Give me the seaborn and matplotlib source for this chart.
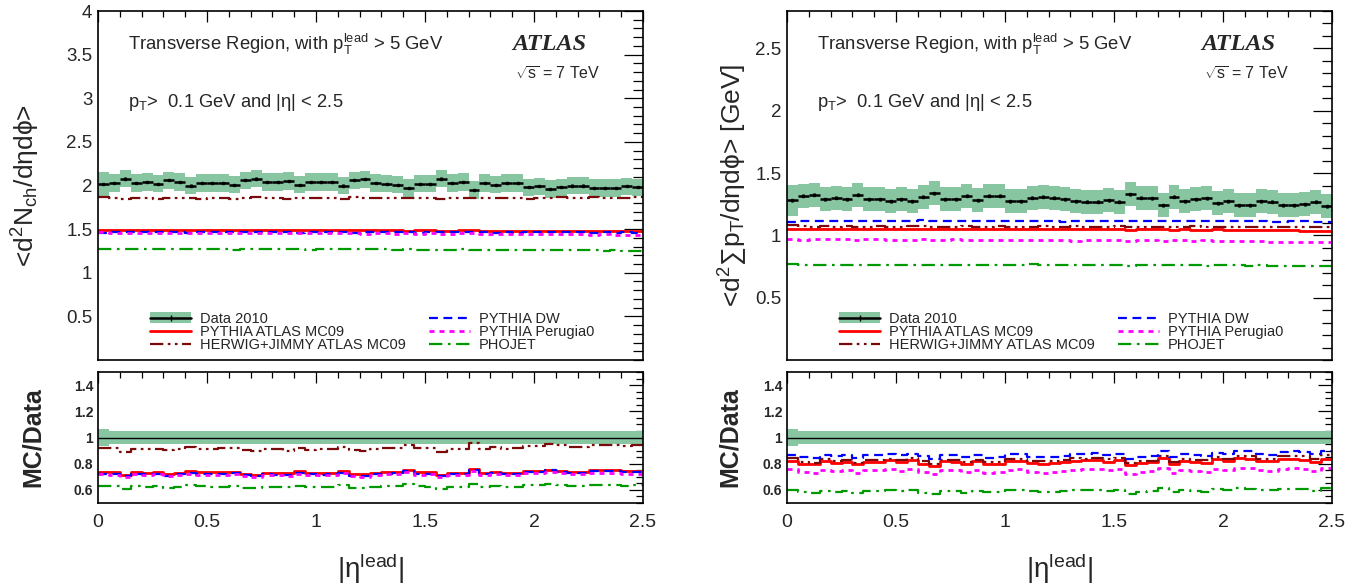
import numpy as np
import matplotlib
matplotlib.use('Agg')
import matplotlib.pyplot as plt
import seaborn as sns
from matplotlib.patches import Patch
from matplotlib.lines import Line2D
from matplotlib.ticker import MultipleLocator, FormatStrFormatter

sns.set_theme(style='white')
plt.rcParams['font.family'] = ['Liberation Sans', 'DejaVu Sans']
plt.rcParams['mathtext.fontset'] = 'custom'
plt.rcParams['mathtext.rm'] = 'Liberation Sans'
plt.rcParams['mathtext.it'] = 'Liberation Sans:italic'
plt.rcParams['mathtext.bf'] = 'Liberation Sans:bold'

# |eta_lead| bins: 50 bins of 0.05 from 0 to 2.5
eta_edges = np.round(np.arange(0, 2.5001, 0.05), 3)

# ---- left: <d2Nch/deta dphi> ----
data_nch = [2.02, 2.03, 2.08, 2.03, 2.04, 2.02, 2.06, 2.04, 2.00, 2.03,
            2.03, 2.03, 2.01, 2.06, 2.08, 2.04, 2.04, 2.05, 2.01, 2.04,
            2.04, 2.04, 2.00, 2.06, 2.07, 2.03, 2.02, 2.01, 1.97, 2.02,
            2.02, 2.08, 2.03, 2.04, 1.95, 2.03, 2.01, 2.03, 2.03, 1.98,
            1.99, 1.96, 1.98, 2.00, 2.00, 1.97, 1.97, 1.97, 1.99, 1.98]
syst_nch = [0.068, 0.050, 0.050, 0.050, 0.050, 0.050, 0.050, 0.050, 0.050, 0.050,
            0.050, 0.050, 0.050, 0.050, 0.050, 0.050, 0.050, 0.050, 0.050, 0.050,
            0.050, 0.050, 0.050, 0.050, 0.050, 0.050, 0.050, 0.050, 0.050, 0.050,
            0.050, 0.050, 0.050, 0.050, 0.050, 0.050, 0.050, 0.050, 0.050, 0.050,
            0.050, 0.050, 0.050, 0.050, 0.050, 0.050, 0.050, 0.050, 0.050, 0.050]
mc09_nch = [1.495, 1.490, 1.488, 1.492, 1.493, 1.490, 1.488, 1.487, 1.485, 1.488,
            1.490, 1.489, 1.487, 1.486, 1.488, 1.490, 1.490, 1.491, 1.489, 1.487,
            1.488, 1.486, 1.487, 1.489, 1.488, 1.486, 1.485, 1.486, 1.484, 1.485,
            1.486, 1.484, 1.483, 1.485, 1.486, 1.484, 1.482, 1.483, 1.481, 1.480,
            1.482, 1.480, 1.478, 1.479, 1.478, 1.477, 1.476, 1.478, 1.477, 1.476]
herwig_nch = [1.865, 1.860, 1.848, 1.858, 1.856, 1.850, 1.862, 1.858, 1.855, 1.850,
              1.852, 1.862, 1.848, 1.858, 1.870, 1.856, 1.860, 1.846, 1.855, 1.852,
              1.858, 1.860, 1.850, 1.866, 1.854, 1.855, 1.858, 1.852, 1.862, 1.856,
              1.860, 1.848, 1.855, 1.858, 1.862, 1.852, 1.860, 1.855, 1.862, 1.850,
              1.858, 1.862, 1.868, 1.860, 1.858, 1.864, 1.860, 1.858, 1.862, 1.864]
dw_nch = [1.455, 1.468, 1.462, 1.466, 1.470, 1.464, 1.462, 1.468, 1.460, 1.465,
          1.464, 1.462, 1.466, 1.463, 1.465, 1.468, 1.462, 1.464, 1.460, 1.465,
          1.462, 1.466, 1.463, 1.461, 1.464, 1.466, 1.462, 1.465, 1.468, 1.461,
          1.463, 1.465, 1.462, 1.464, 1.470, 1.466, 1.461, 1.464, 1.460, 1.463,
          1.465, 1.468, 1.462, 1.464, 1.463, 1.461, 1.465, 1.460, 1.462, 1.458]
perugia_nch = [1.462, 1.455, 1.450, 1.458, 1.455, 1.452, 1.456, 1.454, 1.450, 1.455,
               1.452, 1.456, 1.454, 1.450, 1.453, 1.455, 1.452, 1.450, 1.455, 1.452,
               1.450, 1.453, 1.451, 1.452, 1.448, 1.452, 1.450, 1.447, 1.451, 1.448,
               1.450, 1.445, 1.448, 1.450, 1.452, 1.446, 1.448, 1.445, 1.447, 1.444,
               1.446, 1.448, 1.443, 1.445, 1.441, 1.438, 1.440, 1.436, 1.437, 1.435]
phojet_nch = [1.275, 1.272, 1.270, 1.276, 1.274, 1.272, 1.268, 1.270, 1.275, 1.272,
              1.268, 1.270, 1.265, 1.268, 1.272, 1.270, 1.268, 1.272, 1.270, 1.266,
              1.270, 1.272, 1.268, 1.270, 1.275, 1.268, 1.270, 1.265, 1.270, 1.266,
              1.263, 1.262, 1.265, 1.268, 1.262, 1.266, 1.264, 1.262, 1.265, 1.260,
              1.262, 1.264, 1.260, 1.258, 1.262, 1.257, 1.255, 1.258, 1.254, 1.255]

# ---- right: <d2 sum pT/deta dphi> [GeV] ----
data_pt = [1.283, 1.316, 1.324, 1.289, 1.302, 1.289, 1.324, 1.289, 1.289, 1.275,
           1.289, 1.275, 1.310, 1.337, 1.289, 1.289, 1.316, 1.283, 1.316, 1.316,
           1.275, 1.275, 1.302, 1.310, 1.302, 1.289, 1.275, 1.270, 1.270, 1.283,
           1.270, 1.329, 1.302, 1.297, 1.243, 1.310, 1.275, 1.289, 1.297, 1.257,
           1.275, 1.243, 1.243, 1.275, 1.270, 1.243, 1.243, 1.248, 1.270, 1.235]
syst_pt = [0.062, 0.048, 0.048, 0.048, 0.048, 0.048, 0.048, 0.048, 0.048, 0.048,
           0.048, 0.048, 0.048, 0.048, 0.048, 0.048, 0.048, 0.048, 0.048, 0.048,
           0.048, 0.048, 0.048, 0.048, 0.048, 0.048, 0.048, 0.048, 0.048, 0.048,
           0.048, 0.048, 0.048, 0.048, 0.048, 0.048, 0.048, 0.048, 0.048, 0.048,
           0.048, 0.048, 0.048, 0.048, 0.048, 0.048, 0.048, 0.048, 0.048, 0.048]
mc09_pt = [1.055, 1.052, 1.054, 1.053, 1.050, 1.052, 1.055, 1.050, 1.051, 1.053,
           1.050, 1.052, 1.049, 1.051, 1.053, 1.052, 1.050, 1.048, 1.050, 1.053,
           1.051, 1.049, 1.052, 1.050, 1.048, 1.050, 1.049, 1.051, 1.050, 1.047,
           1.048, 1.046, 1.048, 1.050, 1.047, 1.045, 1.048, 1.046, 1.045, 1.047,
           1.044, 1.046, 1.043, 1.045, 1.042, 1.040, 1.041, 1.038, 1.037, 1.035]
herwig_pt = [1.085, 1.072, 1.070, 1.074, 1.068, 1.072, 1.070, 1.066, 1.072, 1.070,
             1.068, 1.072, 1.075, 1.066, 1.070, 1.068, 1.072, 1.066, 1.070, 1.072,
             1.068, 1.070, 1.066, 1.072, 1.070, 1.068, 1.072, 1.066, 1.070, 1.068,
             1.072, 1.070, 1.066, 1.068, 1.070, 1.066, 1.068, 1.072, 1.070, 1.066,
             1.068, 1.070, 1.066, 1.068, 1.065, 1.067, 1.065, 1.068, 1.064, 1.066]
dw_pt = [1.108, 1.118, 1.116, 1.112, 1.118, 1.114, 1.116, 1.112, 1.114, 1.116,
         1.112, 1.115, 1.122, 1.114, 1.112, 1.118, 1.116, 1.112, 1.114, 1.116,
         1.112, 1.115, 1.113, 1.114, 1.112, 1.110, 1.114, 1.112, 1.118, 1.116,
         1.112, 1.114, 1.112, 1.116, 1.114, 1.112, 1.116, 1.114, 1.115, 1.112,
         1.116, 1.114, 1.112, 1.115, 1.104, 1.110, 1.112, 1.114, 1.110, 1.108]
perugia_pt = [0.972, 0.966, 0.970, 0.968, 0.972, 0.970, 0.966, 0.970, 0.968, 0.965,
              0.962, 0.966, 0.968, 0.964, 0.966, 0.968, 0.965, 0.962, 0.964, 0.966,
              0.962, 0.965, 0.963, 0.960, 0.962, 0.964, 0.958, 0.962, 0.964, 0.960,
              0.962, 0.958, 0.960, 0.962, 0.958, 0.960, 0.962, 0.956, 0.960, 0.958,
              0.955, 0.958, 0.952, 0.955, 0.950, 0.948, 0.950, 0.946, 0.948, 0.945]
phojet_pt = [0.768, 0.764, 0.766, 0.762, 0.764, 0.766, 0.760, 0.764, 0.762, 0.760,
             0.764, 0.762, 0.760, 0.764, 0.762, 0.763, 0.760, 0.762, 0.764, 0.766,
             0.762, 0.764, 0.768, 0.765, 0.762, 0.764, 0.760, 0.762, 0.764, 0.760,
             0.762, 0.758, 0.762, 0.764, 0.766, 0.762, 0.760, 0.762, 0.758, 0.760,
             0.762, 0.760, 0.758, 0.760, 0.757, 0.758, 0.756, 0.758, 0.755, 0.756]

stat_err = 0.012
green = '#88c5a1'
model_names = ['PYTHIA ATLAS MC09', 'HERWIG+JIMMY ATLAS MC09', 'PYTHIA DW',
               'PYTHIA Perugia0', 'PHOJET']
model_colors = ['#ff0000', '#7a0a0a', '#0000ff', '#ff00ff', '#009900']
model_ls = ['-', (0, (6, 2, 1.2, 2, 1.2, 2)), (0, (4, 2.5)), (0, (1.8, 1.8)),
            (0, (6, 2.5, 1.2, 2.5))]
model_lw = [2.0, 1.6, 1.6, 2.0, 1.6]

panels = [
    dict(data=data_nch, syst=syst_nch,
         models=[mc09_nch, herwig_nch, dw_nch, perugia_nch, phojet_nch],
         ylabel=r'<d$^{2}$N$_{\mathrm{ch}}$/dηdϕ>', ylim=(0, 4),
         yticks=[0.5, 1, 1.5, 2, 2.5, 3, 3.5, 4], x0=98,
         ylab_x=-0.103, rlab_x=-0.097),
    dict(data=data_pt, syst=syst_pt,
         models=[mc09_pt, herwig_pt, dw_pt, perugia_pt, phojet_pt],
         ylabel=r'<d$^{2}\sum$p$_{\mathrm{T}}$/dηdϕ> [GeV]', ylim=(0, 2.8),
         yticks=[0.5, 1, 1.5, 2, 2.5], x0=787,
         ylab_x=-0.068, rlab_x=-0.083),
]

W, H = 1367, 584
fig = plt.figure(figsize=(W / 100, H / 100), dpi=100)


def step_line(ax, vals, **kw):
    yy = np.append(vals, vals[-1])
    sns.lineplot(x=eta_edges, y=yy, ax=ax, drawstyle='steps-post',
                 estimator=None, sort=False, **kw)


def style_axis(ax, ymaj_len, ymin_len):
    ax.tick_params(which='both', direction='in', top=True, right=True,
                   width=0.9, color='black')
    ax.tick_params(axis='y', which='major', length=ymaj_len)
    ax.tick_params(axis='y', which='minor', length=ymin_len)
    ax.tick_params(axis='x', which='major', length=8)
    ax.tick_params(axis='x', which='minor', length=4)
    ax.xaxis.set_major_locator(MultipleLocator(0.5))
    ax.xaxis.set_minor_locator(MultipleLocator(0.1))
    for s in ax.spines.values():
        s.set_linewidth(1.2)
        s.set_color('black')
    ax.set_xlim(0, 2.5)


for p in panels:
    left = p['x0'] / W
    width = 545 / W
    ax = fig.add_axes([left, 1 - 360 / H, width, 349 / H])
    axr = fig.add_axes([left, 1 - 503 / H, width, 131 / H])

    data = np.array(p['data'])
    syst = np.array(p['syst'])
    band = syst * 2.0
    lo = np.append(data - band, data[-1] - band[-1])
    hi = np.append(data + band, data[-1] + band[-1])
    ax.fill_between(eta_edges, lo, hi, step='post', color=green, lw=0)
    centers = eta_edges[:-1] + 0.025
    ax.errorbar(centers, data, xerr=0.025, yerr=stat_err, fmt='s', ms=1.8,
                color='black', elinewidth=1.8, capsize=0, zorder=5)

    # ratio band
    rlo = np.append(1 - syst, 1 - syst[-1])
    rhi = np.append(1 + syst, 1 + syst[-1])
    axr.fill_between(eta_edges, rlo, rhi, step='post', color=green, lw=0)
    axr.axhline(1.0, color='black', lw=1.0)

    for vals, name, c, ls, lw in zip(p['models'], model_names, model_colors,
                                      model_ls, model_lw):
        vals = np.array(vals)
        if name == 'PYTHIA ATLAS MC09':
            ax.fill_between(eta_edges, np.append(vals - 0.008, vals[-1] - 0.008),
                            np.append(vals + 0.008, vals[-1] + 0.008),
                            step='post', color='#ff9999', lw=0, alpha=0.7)
        step_line(ax, vals, color=c, linestyle=ls, lw=lw)
        ratio = vals / data
        if name == 'PYTHIA ATLAS MC09':
            axr.fill_between(eta_edges, np.append(ratio - 0.006, ratio[-1] - 0.006),
                             np.append(ratio + 0.006, ratio[-1] + 0.006),
                             step='post', color='#ff9999', lw=0, alpha=0.7)
        step_line(axr, ratio, color=c, linestyle=ls, lw=lw)

    # top panel
    style_axis(ax, 14, 7)
    ax.set_ylim(*p['ylim'])
    ax.set_yticks(p['yticks'])
    ax.yaxis.set_minor_locator(MultipleLocator(0.1))
    ax.yaxis.set_major_formatter(FormatStrFormatter('%g'))
    ax.set_xticklabels([])
    ax.tick_params(axis='y', labelsize=13.5, pad=4)
    ax.set_ylabel(p['ylabel'], fontsize=19)
    ax.yaxis.set_label_coords(p['ylab_x'], 0.5)

    ax.text(0.055, 0.888, r'Transverse Region, with $\mathrm{p}_{\mathrm{T}}^{\mathrm{lead}}$ > 5 GeV',
            transform=ax.transAxes, fontsize=13.3, va='baseline')
    ax.text(0.055, 0.725, r'$\mathrm{p}_{\mathrm{T}}$>  0.1 GeV and |η| < 2.5',
            transform=ax.transAxes, fontsize=13.2, va='baseline')
    ax.text(0.76, 0.888, 'ATLAS', transform=ax.transAxes, fontsize=17.5,
            family='Liberation Serif', weight='bold', style='italic', va='baseline')
    ax.text(0.765, 0.802, r'$\sqrt{\mathrm{s}}$ = 7 TeV', transform=ax.transAxes,
            fontsize=11.5, va='baseline')

    handles = [
        (Patch(facecolor=green, edgecolor='none'),
         Line2D([], [], color='black', lw=1.8, marker='|', ms=5)),
        Line2D([], [], color=model_colors[0], ls=model_ls[0], lw=model_lw[0]),
        Line2D([], [], color=model_colors[1], ls=model_ls[1], lw=model_lw[1]),
        Line2D([], [], color=model_colors[2], ls=model_ls[2], lw=model_lw[2]),
        Line2D([], [], color=model_colors[3], ls=model_ls[3], lw=model_lw[3]),
        Line2D([], [], color=model_colors[4], ls=model_ls[4], lw=model_lw[4]),
    ]
    labels = ['Data 2010'] + model_names
    ax.legend(handles, labels, ncol=2, loc='lower left',
              bbox_to_anchor=(0.085, 0.005), frameon=False, fontsize=10.5,
              handlelength=2.8, handleheight=0.8, labelspacing=-0.05,
              columnspacing=1.6, handletextpad=0.6, borderaxespad=0)

    # ratio panel
    style_axis(axr, 10, 5)
    axr.set_ylim(0.5, 1.5)
    axr.yaxis.set_major_locator(MultipleLocator(0.2))
    axr.yaxis.set_minor_locator(MultipleLocator(0.05))
    axr.yaxis.set_major_formatter(FormatStrFormatter('%g'))
    axr.xaxis.set_major_formatter(FormatStrFormatter('%g'))
    axr.tick_params(axis='y', labelsize=10)
    axr.tick_params(axis='x', labelsize=14, pad=8)
    for t in axr.get_yticklabels():
        t.set_fontweight('bold')
    axr.set_ylabel('MC/Data', fontsize=18, weight='bold')
    axr.yaxis.set_label_coords(p['rlab_x'], 0.5)
    axr.set_xlabel(r'|η$^{\mathrm{lead}}$|', fontsize=20)
    axr.xaxis.set_label_coords(0.5, -0.37)

fig.savefig('out.png', dpi=100, facecolor='white')
